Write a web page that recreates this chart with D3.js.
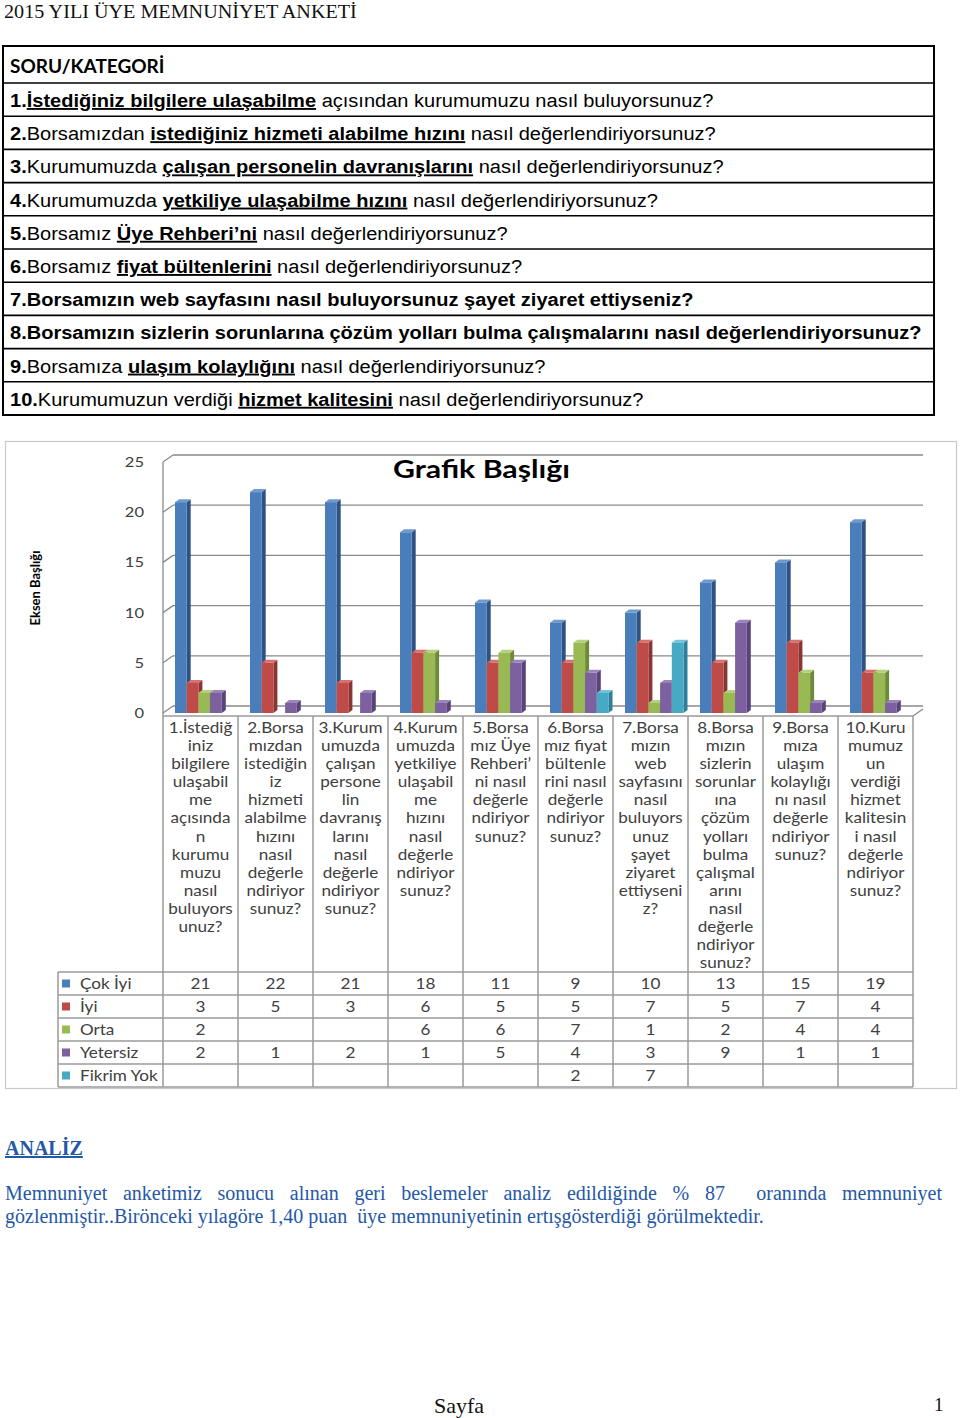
<!DOCTYPE html>
<html><head><meta charset="utf-8">
<script src="https://cdn.jsdelivr.net/npm/d3@7/dist/d3.min.js"></script>
<style>body{margin:0;background:#fff} svg{display:block}</style>
</head><body>
<svg id="c" width="960" height="1418"></svg>
<script>
// ---------- DATA ----------
const pageTitle = "2015 YILI ÜYE MEMNUNİYET ANKETİ";
const tableHeader = "SORU/KATEGORİ";
// segments: [text, bold, underline]
const questions = [
  [["1.",1,0],["İstediğiniz bilgilere ulaşabilme",1,1],[" açısından kurumumuzu nasıl buluyorsunuz?",0,0]],
  [["2.",1,0],["Borsamızdan ",0,0],["istediğiniz hizmeti alabilme hızını",1,1],[" nasıl değerlendiriyorsunuz?",0,0]],
  [["3.",1,0],["Kurumumuzda ",0,0],["çalışan personelin davranışlarını",1,1],[" nasıl değerlendiriyorsunuz?",0,0]],
  [["4.",1,0],["Kurumumuzda ",0,0],["yetkiliye ulaşabilme hızını",1,1],[" nasıl değerlendiriyorsunuz?",0,0]],
  [["5.",1,0],["Borsamız ",0,0],["Üye Rehberi’ni",1,1],[" nasıl değerlendiriyorsunuz?",0,0]],
  [["6.",1,0],["Borsamız ",0,0],["fiyat bültenlerini",1,1],[" nasıl değerlendiriyorsunuz?",0,0]],
  [["7.Borsamızın web sayfasını nasıl buluyorsunuz şayet ziyaret ettiyseniz?",1,0]],
  [["8.Borsamızın sizlerin sorunlarına çözüm yolları bulma çalışmalarını nasıl değerlendiriyorsunuz?",1,0]],
  [["9.",1,0],["Borsamıza ",0,0],["ulaşım kolaylığını",1,1],[" nasıl değerlendiriyorsunuz?",0,0]],
  [["10.",1,0],["Kurumumuzun verdiği ",0,0],["hizmet kalitesini",1,1],[" nasıl değerlendiriyorsunuz?",0,0]]
];
const chartTitle = "Grafik Başlığı";
const yAxisTitle = "Eksen Başlığı";
const categoryLabels = [
  ["1.İstediğ","iniz","bilgilere","ulaşabil","me","açısında","n","kurumu","muzu","nasıl","buluyors","unuz?"],
  ["2.Borsa","mızdan","istediğin","iz","hizmeti","alabilme","hızını","nasıl","değerle","ndiriyor","sunuz?"],
  ["3.Kurum","umuzda","çalışan","persone","lin","davranış","larını","nasıl","değerle","ndiriyor","sunuz?"],
  ["4.Kurum","umuzda","yetkiliye","ulaşabil","me","hızını","nasıl","değerle","ndiriyor","sunuz?"],
  ["5.Borsa","mız Üye","Rehberi’","ni nasıl","değerle","ndiriyor","sunuz?"],
  ["6.Borsa","mız fiyat","bültenle","rini nasıl","değerle","ndiriyor","sunuz?"],
  ["7.Borsa","mızın","web","sayfasını","nasıl","buluyors","unuz","şayet","ziyaret","ettiyseni","z?"],
  ["8.Borsa","mızın","sizlerin","sorunlar","ına","çözüm","yolları","bulma","çalışmal","arını","nasıl","değerle","ndiriyor","sunuz?"],
  ["9.Borsa","mıza","ulaşım","kolaylığı","nı nasıl","değerle","ndiriyor","sunuz?"],
  ["10.Kuru","mumuz","un","verdiği","hizmet","kalitesin","i nasıl","değerle","ndiriyor","sunuz?"]
];
const seriesNames = ["Çok İyi","İyi","Orta","Yetersiz","Fikrim Yok"];
const cokIyi    = [21,22,21,18,11,9,10,13,15,19];
const iyi       = [3,5,3,6,5,5,7,5,7,4];
const orta      = [2,null,null,6,6,7,1,2,4,4];
const yetersiz  = [2,1,2,1,5,4,3,9,1,1];
const fikrimYok = [null,null,null,null,null,2,7,null,null,null];
const seriesValues = [cokIyi, iyi, orta, yetersiz, fikrimYok];
const yTicks = [0,5,10,15,20,25];
const analysisTitle = "ANALİZ";
const analysisLine1 = ["Memnuniyet","anketimiz","sonucu","alınan","geri","beslemeler","analiz","edildiğinde","%","87","","oranında","memnuniyet"];
const analysisLine2 = "gözlenmiştir..Birönceki yılagöre 1,40 puan  üye memnuniyetinin ertışgösterdiği görülmektedir.";
const footerText = "Sayfa";
const pageNumber = "1";

// ---------- STYLE ----------
const colors = {
  front: ["#4A7EBB","#BE4B48","#98B954","#7D60A0","#46AAC5"],
  side:  ["#2F5283","#8A3533","#6C8A37","#58437A","#2E8099"],
  top:   ["#6F9AD0","#D6716E","#B5D07A","#9C84BC","#74C4D9"]
};
const svg = d3.select("#c");
const serif = "'Liberation Serif','Times New Roman',serif";
const sans = "'Liberation Sans',Arial,sans-serif";
const cal = "Lato,'Open Sans',sans-serif";
const gray = "#404040";
const stretch = 1.18; // chart image is horizontally stretched

// page title
const pt = svg.append("text").attr("font-family",serif).attr("font-size",19.5)
  .attr("fill","#111").text(pageTitle);
pt.attr("transform",`translate(4,18) scale(${353/pt.node().getComputedTextLength()},1)`);

// ---------- QUESTION TABLE ----------
const tX0 = 3, tX1 = 934, headTop = 46, headH = 37, rowH = 33.2;
const rowTops = [headTop].concat(d3.range(questions.length+1).map(i => headTop+headH+i*rowH));
const qt = svg.append("g");
qt.append("rect").attr("x",tX0).attr("y",headTop).attr("width",tX1-tX0)
  .attr("height",rowTops[rowTops.length-1]-headTop).attr("fill","none").attr("stroke","#000").attr("stroke-width",2);
rowTops.slice(1,-1).forEach(y => qt.append("line").attr("x1",tX0).attr("x2",tX1).attr("y1",y).attr("y2",y)
  .attr("stroke","#000").attr("stroke-width",1.6));
qt.append("text").attr("x",10).attr("y",headTop+27).attr("font-family",cal).attr("font-weight",700)
  .attr("font-size",19).attr("fill","#000").text(tableHeader);

const qTexts = questions.map((segs,i) => {
  const g = qt.append("g");
  const t = g.append("text").attr("font-family",sans).attr("font-size",19).attr("fill","#000");
  segs.forEach(s => t.append("tspan").attr("font-weight",s[1]?700:400)
    .style("text-decoration",s[2]?"underline":"none").style("white-space","pre").text(s[0]));
  t.attr("xml:space","preserve");
  return {g,t,i};
});
const w8 = qTexts[7].t.node().getComputedTextLength();
const qScale = (922-10)/w8;
qTexts.forEach(({g,i}) => g.attr("transform",`translate(10,${rowTops[i+1]+24}) scale(${qScale},1)`));

// ---------- CHART ----------
svg.append("rect").attr("x",5.5).attr("y",441.5).attr("width",951).attr("height",647)
  .attr("fill","#fff").attr("stroke","#C8C8C8").attr("stroke-width",1.2);

const y = d3.scaleLinear().domain([0,25]).range([713,462]);
const x0 = d3.scaleBand().domain(d3.range(categoryLabels.length)).range([163,913]);
const x1 = d3.scaleBand().domain(seriesNames).range([12,12+5*11.7]);
const dxW = 10, dyW = 7, dxB = 4, dyB = 3;
const gridC = "#8A8A8A";
const ch = svg.append("g");
// back wall gridlines
yTicks.forEach(v => {
  ch.append("line").attr("x1",163+dxW).attr("x2",913+dxW).attr("y1",y(v)-dyW).attr("y2",y(v)-dyW)
    .attr("stroke",gridC).attr("stroke-width",1.3);
  ch.append("line").attr("x1",163).attr("x2",163+dxW).attr("y1",y(v)).attr("y2",y(v)-dyW)
    .attr("stroke",gridC).attr("stroke-width",1.3);
});
ch.append("line").attr("x1",163).attr("x2",163).attr("y1",y(25)).attr("y2",y(0)+3)
  .attr("stroke",gridC).attr("stroke-width",1.3);
ch.append("line").attr("x1",913).attr("x2",913+dxW).attr("y1",y(0)+3).attr("y2",y(0)-dyW+3)
  .attr("stroke",gridC).attr("stroke-width",1.3);
// y tick labels
ch.selectAll(".yt").data(yTicks).join("text")
  .attr("transform",v=>`translate(144,${y(v)+5}) scale(${stretch},1)`)
  .attr("text-anchor","end").attr("font-family",cal).attr("font-size",14).attr("fill",gray).text(v=>v);
// y axis title
ch.append("text").attr("transform","translate(40,588) rotate(-90)").attr("text-anchor","middle")
  .attr("font-family",cal).attr("font-weight",700).attr("font-size",13).attr("fill","#000").text(yAxisTitle);
// chart title
const ct = ch.append("text").attr("font-family",cal).attr("font-weight",700).attr("font-size",24)
  .attr("fill","#000").text(chartTitle);
const ctw = ct.node().getComputedTextLength();
ct.attr("transform",`translate(393,478) scale(${177/ctw},1)`);

// bars
const barsG = ch.append("g");
categoryLabels.forEach((_,ci) => {
  seriesNames.forEach((sn,si) => {
    const v = seriesValues[si][ci];
    if (v == null) return;
    const bx = x0(ci)+x1(sn), bw = x1.bandwidth(), yt = y(v), yb = y(0);
    barsG.append("path").attr("d",`M${bx+bw},${yt}L${bx+bw+dxB},${yt-dyB}L${bx+bw+dxB},${yb-dyB}L${bx+bw},${yb}Z`)
      .attr("fill",colors.side[si]);
    barsG.append("path").attr("d",`M${bx},${yt}L${bx+dxB},${yt-dyB}L${bx+bw+dxB},${yt-dyB}L${bx+bw},${yt}Z`)
      .attr("fill",colors.top[si]);
    barsG.append("rect").attr("x",bx).attr("y",yt).attr("width",bw).attr("height",yb-yt)
      .attr("fill",colors.front[si]);
  });
});

// ---------- DATA TABLE ----------
const tblC = "#9A9A9A";
const labelTop = 716, dataTop = 972, dRowH = 23, legendX = 58;
const tb = ch.append("g");
tb.append("line").attr("x1",163).attr("x2",913).attr("y1",labelTop).attr("y2",labelTop)
  .attr("stroke",tblC).attr("stroke-width",1.5);
x0.domain().concat([categoryLabels.length]).forEach(ci => {
  const xx = ci < categoryLabels.length ? x0(ci) : 913;
  tb.append("line").attr("x1",xx).attr("x2",xx).attr("y1",labelTop).attr("y2",dataTop+5*dRowH)
    .attr("stroke",tblC).attr("stroke-width",1.5);
});
tb.append("line").attr("x1",legendX).attr("x2",legendX).attr("y1",dataTop).attr("y2",dataTop+5*dRowH)
  .attr("stroke",tblC).attr("stroke-width",1.5);
d3.range(6).forEach(r => tb.append("line").attr("x1",legendX).attr("x2",913)
  .attr("y1",dataTop+r*dRowH).attr("y2",dataTop+r*dRowH).attr("stroke",tblC).attr("stroke-width",1.5));
// category labels
categoryLabels.forEach((lines,ci) => {
  const t = tb.append("text").attr("font-family",cal).attr("font-size",14.5).attr("fill",gray)
    .attr("text-anchor","middle")
    .attr("transform",`translate(${x0(ci)+x0.bandwidth()/2},0) scale(${stretch},1)`);
  lines.forEach((ln,li) => t.append("tspan").attr("x",0).attr("y",733+li*18.1).text(ln));
});
// legend + values
seriesNames.forEach((sn,si) => {
  const cy = dataTop + si*dRowH + dRowH/2;
  tb.append("rect").attr("x",62).attr("y",cy-4).attr("width",8).attr("height",8).attr("fill",colors.front[si]);
  tb.append("text").attr("transform",`translate(80,${cy+5}) scale(${stretch},1)`).attr("font-family",cal)
    .attr("font-size",14.5).attr("fill",gray).text(sn);
  seriesValues[si].forEach((v,ci) => {
    if (v == null) return;
    tb.append("text").attr("transform",`translate(${x0(ci)+x0.bandwidth()/2},${cy+5}) scale(${stretch},1)`)
      .attr("text-anchor","middle")
      .attr("font-family",cal).attr("font-size",14.5).attr("fill",gray).text(v);
  });
});

// ---------- ANALYSIS ----------
const blue = "#2557A7";
svg.append("text").attr("x",5).attr("y",1155).attr("font-family",serif).attr("font-weight",700)
  .attr("font-size",20).attr("fill",blue).style("text-decoration","underline").text(analysisTitle);
// justified first line
const a1 = svg.append("g").attr("font-family",serif).attr("font-size",20).attr("fill",blue);
const words = analysisLine1.map(w => {
  const t = a1.append("text").attr("y",1200).text(w);
  return {t, w: w ? t.node().getComputedTextLength() : 0};
});
const totalW = d3.sum(words, d=>d.w);
const gap = (942-5-totalW)/(words.length-1);
let cx = 5;
words.forEach(d => { d.t.attr("x",cx); cx += d.w + gap; });
svg.append("text").attr("x",5).attr("y",1223).attr("font-family",serif).attr("font-size",20)
  .attr("fill",blue).attr("xml:space","preserve").style("white-space","pre").text(analysisLine2);

// footer
svg.append("text").attr("x",434).attr("y",1413).attr("font-family",serif).attr("font-size",22)
  .attr("fill","#111").text(footerText);
svg.append("text").attr("x",934).attr("y",1411).attr("font-family",serif).attr("font-size",19)
  .attr("fill","#111").text(pageNumber);
</script>
</body></html>
